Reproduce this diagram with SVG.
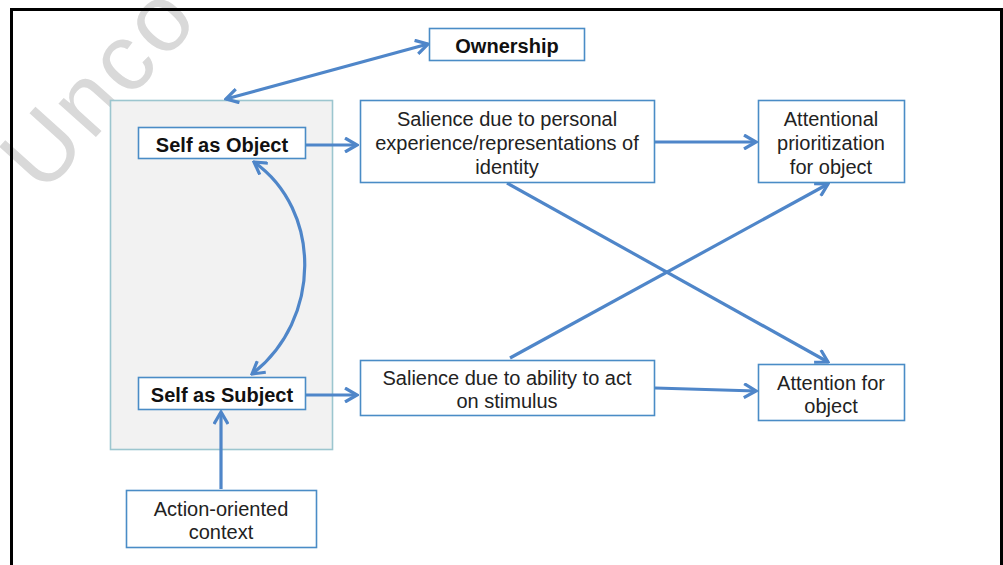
<svg xmlns="http://www.w3.org/2000/svg" width="1003" height="565" viewBox="0 0 1003 565">
<style>
.box{fill:#fff;stroke:#4a8cc6;stroke-width:1.6}
.t{font-family:"Liberation Sans",Arial,sans-serif;font-size:20px;fill:#222;text-anchor:middle}
.b{font-weight:bold;fill:#111}
.c{fill:none;stroke:#4f86c9;stroke-width:3.2}
</style>
<defs>
<marker id="ah" viewBox="0 0 16 16" refX="14" refY="8" markerWidth="16" markerHeight="16" markerUnits="userSpaceOnUse" orient="auto-start-reverse">
<path d="M2,1 L14,8 L2,15" fill="none" stroke="#4f86c9" stroke-width="3.2" stroke-linejoin="miter"/>
</marker>
</defs>
<rect x="0" y="0" width="1003" height="565" fill="#fff"/>
<text x="0" y="0" transform="translate(43,196) rotate(-48)" font-family="Liberation Sans,Arial,sans-serif" font-size="95" letter-spacing="4" fill="#d9d9d9">Unco</text>
<rect x="11.5" y="9.5" width="990" height="600" fill="none" stroke="#000" stroke-width="3"/>
<g id="container"><rect x="110.5" y="100.5" width="222" height="349" fill="#f2f2f2" stroke="#9cc6cf" stroke-width="1.6"/></g>
<g id="connectors">
<path class="c" d="M428,44 L226,99" marker-start="url(#ah)" marker-end="url(#ah)"/>
<path class="c" d="M305,145 L357,145" marker-end="url(#ah)"/>
<path class="c" d="M655,142 L756,142" marker-end="url(#ah)"/>
<path class="c" d="M305,395 L357,395" marker-end="url(#ah)"/>
<path class="c" d="M655,388 L756,391" marker-end="url(#ah)"/>
<path class="c" d="M221,489 L221,412" marker-end="url(#ah)"/>
<path class="c" d="M507,183 L828,362" marker-end="url(#ah)"/>
<path class="c" d="M510,358 L828,184" marker-end="url(#ah)"/>
<path class="c" d="M254,162 C322,210 322,320 252,374" marker-start="url(#ah)" marker-end="url(#ah)"/>
</g>
<g id="ownership"><rect class="box" x="429.5" y="28.5" width="155" height="32"/><text class="t b" x="507" y="53">Ownership</text></g>
<g id="self-object"><rect class="box" x="138.5" y="127.5" width="167" height="31"/><text class="t b" x="222" y="152">Self as Object</text></g>
<g id="self-subject"><rect class="box" x="138.5" y="377.5" width="167" height="32"/><text class="t b" x="222" y="402">Self as Subject</text></g>
<g id="salience-personal"><rect class="box" x="360.5" y="100.5" width="294" height="82"/>
<text class="t" x="507" y="126">Salience due to personal</text>
<text class="t" x="507" y="150">experience/representations of</text>
<text class="t" x="507" y="174">identity</text></g>
<g id="attentional"><rect class="box" x="758.5" y="100.5" width="146" height="82"/>
<text class="t" x="831" y="126">Attentional</text>
<text class="t" x="831" y="150">prioritization</text>
<text class="t" x="831" y="174">for object</text></g>
<g id="salience-ability"><rect class="box" x="360.5" y="360.5" width="294" height="55"/>
<text class="t" x="507" y="385">Salience due to ability to act</text>
<text class="t" x="507" y="408">on stimulus</text></g>
<g id="attention"><rect class="box" x="758.5" y="364.5" width="146" height="56"/>
<text class="t" x="831" y="390">Attention for</text>
<text class="t" x="831" y="413">object</text></g>
<g id="action"><rect class="box" x="126.5" y="490.5" width="190" height="57"/>
<text class="t" x="221" y="516">Action-oriented</text>
<text class="t" x="221" y="539">context</text></g>
</svg>
